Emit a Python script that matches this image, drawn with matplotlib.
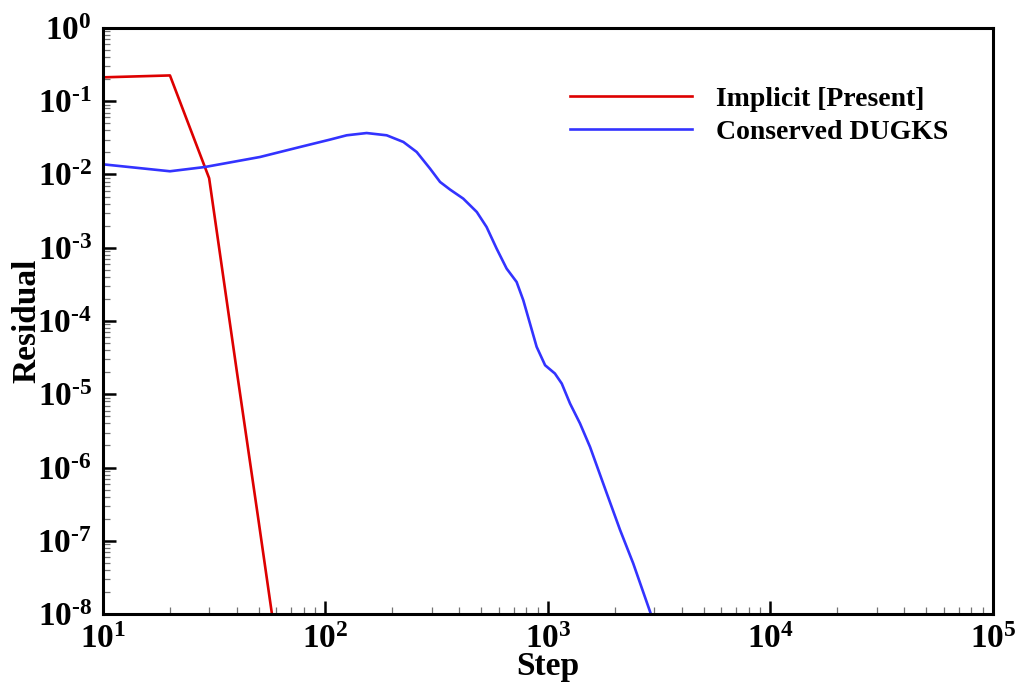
import math
import matplotlib
matplotlib.use("Agg")
import matplotlib.pyplot as plt
from matplotlib.ticker import LogLocator, FuncFormatter, NullFormatter

plt.rcParams['font.family'] = ['Liberation Serif', 'DejaVu Serif']
plt.rcParams['font.weight'] = 'bold'
plt.rcParams['mathtext.fontset'] = 'custom'
plt.rcParams['mathtext.rm'] = 'Liberation Serif:bold'
plt.rcParams['mathtext.bf'] = 'Liberation Serif:bold'
plt.rcParams['mathtext.it'] = 'Liberation Serif:bold'

# Implicit [Present]
implicit_step = [10, 20, 30, 40, 50, 60]
implicit_res = [0.212, 0.225, 0.0089, 2.0e-5, 1.9e-7, 4.0e-9]

# Conserved DUGKS
dugks_step = [10, 20, 28.7, 50.8, 76.7, 104.7, 124.5, 153.1, 188.4, 223.9, 257.0,
              295.1, 327.3, 363.1, 415.9, 478.6, 529.7, 587.5, 651.6, 722.8, 774.5,
              829.8, 889.2, 970.5, 1074, 1153, 1256, 1393, 1545, 1837, 2109, 2415,
              2900]
dugks_res = [1.377e-2, 1.107e-2, 1.265e-2, 1.734e-2, 2.371e-2, 2.992e-2, 3.428e-2,
             3.681e-2, 3.428e-2, 2.780e-2, 2.028e-2, 1.202e-2, 7.91e-3, 6.22e-3,
             4.69e-3, 3.08e-3, 1.92e-3, 9.75e-4, 5.20e-4, 3.41e-4, 1.92e-4, 9.25e-5,
             4.44e-5, 2.49e-5, 1.92e-5, 1.40e-5, 7.48e-6, 3.99e-6, 1.91e-6, 4.44e-7,
             1.40e-7, 4.92e-8, 1.0e-8]

labels = ['Implicit [Present]', 'Conserved DUGKS']


def pow_label(v, pos):
    e = int(round(math.log10(v)))
    if e < 0:
        return r'$10^{\text{-%d}}$' % (-e)
    return r'$10^{%d}$' % e


fig = plt.figure(figsize=(10.36, 6.91), dpi=100)
ax = fig.add_axes([0.0994, 0.1114, 0.8591, 0.8481])

ax.plot(implicit_step, implicit_res, color='#dd0000', lw=1.9, label=labels[0])
ax.plot(dugks_step, dugks_res, color='#3333ff', lw=1.9, label=labels[1])

ax.set_xscale('log')
ax.set_yscale('log')
ax.set_xlim(10, 1e5)
ax.set_ylim(1e-8, 1)

fmt = FuncFormatter(pow_label)
ax.xaxis.set_major_locator(LogLocator(base=10, numticks=20))
ax.yaxis.set_major_locator(LogLocator(base=10, numticks=20))
ax.xaxis.set_minor_locator(LogLocator(base=10, subs=range(2, 10), numticks=20))
ax.yaxis.set_minor_locator(LogLocator(base=10, subs=range(2, 10), numticks=20))
ax.xaxis.set_major_formatter(fmt)
ax.yaxis.set_major_formatter(fmt)
ax.xaxis.set_minor_formatter(NullFormatter())
ax.yaxis.set_minor_formatter(NullFormatter())

ax.tick_params(which='major', direction='in', length=9.5, width=1.8, labelsize=24,
               top=False, right=False, color='black')
ax.tick_params(which='minor', direction='in', length=5, width=0.9, color='0.45',
               top=False, right=False)
ax.tick_params(axis='x', which='major', pad=7)
ax.tick_params(axis='y', which='major', pad=8)

for s in ax.spines.values():
    s.set_linewidth(2.2)

ax.set_xlabel('Step', fontsize=24, fontweight='bold')
ax.set_ylabel('Residual', fontsize=24, fontweight='bold')
ax.xaxis.set_label_coords(0.5, -0.063)
ax.yaxis.set_label_coords(-0.068, 0.5)

leg = ax.legend(loc='upper left', bbox_to_anchor=(0.525, 0.90), frameon=False,
                fontsize=20, handlelength=4.4, handletextpad=0.83, labelspacing=0.27,
                borderpad=0, borderaxespad=0)
for t in leg.get_texts():
    t.set_fontweight('bold')

fig.savefig('out.png', dpi=100)
